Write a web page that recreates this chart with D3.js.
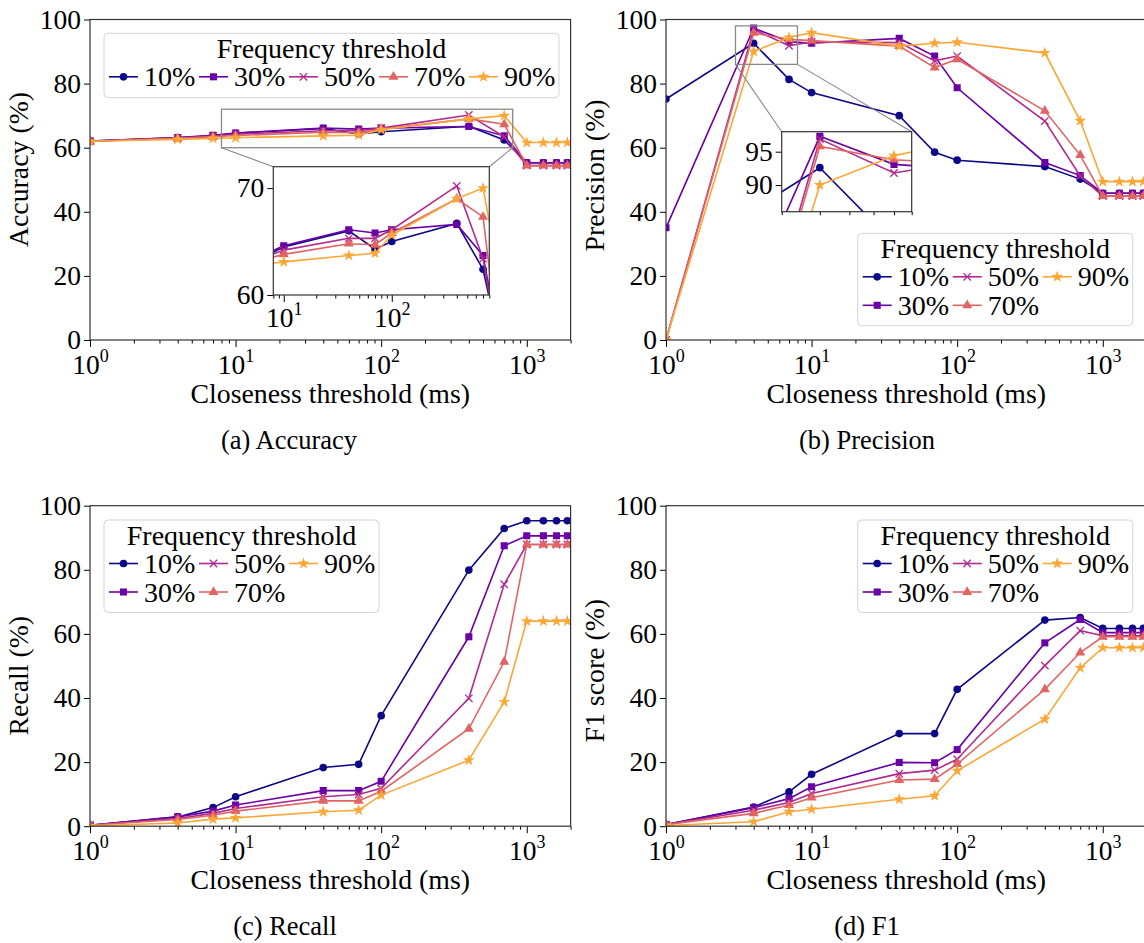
<!DOCTYPE html>
<html>
<head>
<meta charset="utf-8">
<script src="https://cdn.jsdelivr.net/npm/d3@7"></script>
<style>
  body { margin: 0; background: #fff; }
  text { font-family: "Liberation Serif", "Times New Roman", serif; fill: #000; }
</style>
</head>
<body>
<svg id="fig" width="1144" height="943"></svg>
<script>
// closeness thresholds (ms)
const xs = [1, 4, 7, 10, 40, 70, 100, 400, 700, 1000, 1300, 1600, 1900];
const freqLabels = ["10%", "30%", "50%", "70%", "90%"];
const colors = ["#0d0887", "#6a00a8", "#b12a90", "#e16462", "#fca636"];

const accuracy = [
  [62.1, 63.1, 63.7, 64.5, 66.0, 64.3, 65.0, 66.7, 62.4, 55.3, 55.3, 55.3, 55.3],
  [62.1, 63.2, 63.9, 64.6, 66.1, 65.8, 66.1, 66.6, 63.7, 55.3, 55.3, 55.3, 55.3],
  [62.0, 63.0, 63.6, 64.2, 65.3, 65.3, 66.1, 70.2, 63.4, 54.4, 54.4, 54.4, 54.4],
  [62.0, 62.9, 63.4, 63.8, 64.8, 64.7, 65.8, 69.0, 67.3, 54.4, 54.4, 54.4, 54.4],
  [62.0, 62.6, 62.9, 63.1, 63.7, 63.9, 65.6, 69.0, 70.0, 61.6, 61.6, 61.6, 61.6]
];
const precision = [
  [75.2, 92.6, 81.3, 77.2, 70.0, 58.6, 56.1, 54.1, 50.2, 45.8, 45.8, 45.8, 45.8],
  [35.0, 97.3, 93.1, 92.6, 94.1, 88.6, 78.7, 55.4, 51.3, 45.8, 45.8, 45.8, 45.8],
  [0.0, 96.9, 91.8, 93.0, 92.8, 87.1, 88.6, 68.3, 51.2, 44.9, 44.9, 44.9, 44.9],
  [0.0, 95.8, 93.8, 93.4, 91.7, 85.0, 87.6, 71.5, 57.7, 44.9, 44.9, 44.9, 44.9],
  [0.0, 90.0, 94.4, 95.9, 91.7, 92.6, 92.9, 89.6, 68.4, 49.4, 49.4, 49.4, 49.4]
];
const recall = [
  [0.3, 2.9, 5.8, 9.2, 18.3, 19.3, 34.5, 79.9, 92.9, 95.3, 95.3, 95.3, 95.3],
  [0.3, 2.9, 4.7, 6.6, 11.1, 11.1, 14.0, 59.1, 87.5, 90.6, 90.6, 90.6, 90.6],
  [0.3, 2.4, 4.0, 5.5, 9.2, 9.9, 11.8, 39.9, 75.5, 87.9, 87.9, 87.9, 87.9],
  [0.3, 2.1, 3.4, 4.7, 7.9, 7.9, 10.9, 30.4, 51.3, 87.9, 87.9, 87.9, 87.9],
  [0.1, 1.0, 2.2, 2.6, 4.5, 5.0, 9.7, 20.6, 38.8, 64.0, 64.0, 64.0, 64.0]
];
const f1 = [
  [0.5, 6.0, 10.7, 16.2, 28.9, 28.9, 42.7, 64.3, 65.1, 61.7, 61.7, 61.7, 61.7],
  [0.5, 5.8, 8.6, 12.3, 19.9, 19.8, 23.9, 57.2, 64.5, 60.4, 60.4, 60.4, 60.4],
  [0.5, 5.0, 7.4, 10.2, 16.4, 17.5, 20.9, 50.1, 61.0, 59.4, 59.4, 59.4, 59.4],
  [0.5, 4.0, 6.6, 8.9, 14.4, 14.7, 19.4, 42.7, 54.2, 59.1, 59.1, 59.1, 59.1],
  [0.2, 1.4, 4.5, 5.3, 8.4, 9.5, 17.3, 33.4, 49.4, 55.7, 55.7, 55.7, 55.7]
];

const yTicks = [0, 20, 40, 60, 80, 100];
const xMajor = [1, 10, 100, 1000];

const svg = d3.select("#fig");
let clipId = 0;

function minorTicks(dom) {
  const out = [];
  for (let e = Math.floor(Math.log10(dom[0])); e <= Math.ceil(Math.log10(dom[1])); e++)
    for (let k = 2; k <= 9; k++) {
      const v = k * Math.pow(10, e);
      if (v >= dom[0] && v <= dom[1]) out.push(v);
    }
  return out;
}

function markerD(i) {
  if (i === 0) return d3.symbol().type(d3.symbolCircle).size(46)();
  if (i === 1) return d3.symbol().type(d3.symbolSquare).size(50)();
  if (i === 2) return "M-3.7,-3.7L3.7,3.7M-3.7,3.7L3.7,-3.7";
  if (i === 3) return d3.symbol().type(d3.symbolTriangle).size(44)();
  return d3.symbol().type(d3.symbolStar).size(44)();
}

function marker(sel, i) {
  sel.attr("d", markerD(i));
  if (i === 2) sel.attr("fill", "none").attr("stroke", colors[i]).attr("stroke-width", 1.3);
  else sel.attr("fill", colors[i]).attr("stroke", "none");
}

function series(g, x, y, data) {
  const id = "clip" + (clipId++);
  const [x0, x1] = x.range(), [y1, y0] = y.range();
  g.append("clipPath").attr("id", id).append("rect")
    .attr("x", x0).attr("y", y0).attr("width", x1 - x0).attr("height", y1 - y0);
  const c = g.append("g").attr("clip-path", `url(#${id})`);
  data.forEach((vals, i) => {
    const pts = xs.map((v, j) => [v, vals[j]]);
    c.append("path")
      .attr("d", d3.line().x(d => x(d[0])).y(d => y(d[1]))(pts))
      .attr("fill", "none").attr("stroke", colors[i]).attr("stroke-width", 1.6);
    c.selectAll(null).data(pts).join("path")
      .attr("transform", d => `translate(${x(d[0])},${y(d[1])})`)
      .call(marker, i);
  });
}

function axes(g, x, y, o) {
  const [x0, x1] = x.range(), [y1, y0] = y.range();
  const dom = x.domain();
  g.append("g").attr("transform", `translate(0,${y1})`)
    .call(d3.axisBottom(x).tickValues(minorTicks(dom)).tickSize(3.5).tickFormat(""))
    .call(s => s.select(".domain").remove());
  if (o.xLabels) {
    const gx = g.append("g").attr("transform", `translate(0,${y1})`)
      .call(d3.axisBottom(x).tickValues(xMajor.filter(v => v >= dom[0] && v <= dom[1])).tickSize(7).tickFormat(""));
    gx.select(".domain").remove();
    gx.selectAll(".tick").each(function(d) {
      const t = d3.select(this).append("text")
        .attr("y", o.xLabY).attr("text-anchor", "middle").style("font-size", "27.5px");
      t.append("tspan").text("10");
      t.append("tspan").attr("dy", -12).style("font-size", "18px").text(Math.round(Math.log10(d)));
    });
  }
  const gy = g.append("g").attr("transform", `translate(${x0},0)`)
    .call(d3.axisLeft(y).tickValues(o.yTicks).tickSize(6).tickPadding(3));
  gy.select(".domain").remove();
  gy.selectAll("text").style("font-size", "27.5px");
  g.append("rect").attr("x", x0).attr("y", y0).attr("width", x1 - x0).attr("height", y1 - y0)
    .attr("fill", "none").attr("stroke", "#333").attr("stroke-width", 1.2);
}

function legend(g, lx, ly, ncol) {
  const nrow = Math.ceil(freqLabels.length / ncol);
  const w = ncol * 90 + 5, h = 36.4 + nrow * 28;
  g.append("rect").attr("x", lx).attr("y", ly).attr("width", w).attr("height", h)
    .attr("rx", 4).attr("fill", "#fff").attr("fill-opacity", 0.85)
    .attr("stroke", "#d4d4d4").attr("stroke-width", 1);
  g.append("text").attr("x", lx + w / 2).attr("y", ly + 25).attr("text-anchor", "middle")
    .style("font-size", "28px").text("Frequency threshold");
  freqLabels.forEach((lab, i) => {
    const col = Math.floor(i / nrow), row = i % nrow;
    const sx = lx + 5 + col * 90, sy = ly + 43.5 + row * 28.5;
    g.append("line").attr("x1", sx).attr("x2", sx + 29).attr("y1", sy).attr("y2", sy)
      .attr("stroke", colors[i]).attr("stroke-width", 1.6);
    g.append("path").attr("transform", `translate(${sx + 14.5},${sy})`).call(marker, i);
    g.append("text").attr("x", sx + 35).attr("y", sy + 9.5).style("font-size", "28px").text(lab);
  });
}

function zoomBox(g, x, y, ix, iy, xd, yd) {
  const rx0 = x(xd[0]), rx1 = x(xd[1]), ry0 = y(yd[1]), ry1 = y(yd[0]);
  g.append("rect").attr("x", rx0).attr("y", ry0).attr("width", rx1 - rx0).attr("height", ry1 - ry0)
    .attr("fill", "none").attr("stroke", "#8a8a8a").attr("stroke-width", 1.3);
  const [ix0, ix1] = ix.range(), iTop = iy.range()[1];
  g.append("line").attr("x1", rx0).attr("y1", ry1).attr("x2", ix0).attr("y2", iTop)
    .attr("stroke", "#8a8a8a").attr("stroke-width", 1.1);
  g.append("line").attr("x1", rx1).attr("y1", ry1).attr("x2", ix1).attr("y2", iTop)
    .attr("stroke", "#8a8a8a").attr("stroke-width", 1.1);
}

function panel(p) {
  const g = svg.append("g");
  const x = d3.scaleLog().domain([1, 2000]).range([p.left, p.left + 480.6]);
  const y = d3.scaleLinear().domain([0, 100]).range([p.top + 320.5, p.top]);
  series(g, x, y, p.data);
  axes(g, x, y, { xLabels: true, xLabY: 33.5, yTicks: yTicks });

  // axis titles
  g.append("text").attr("x", p.left + 240.3).attr("y", p.top + 383.5).attr("text-anchor", "middle")
    .style("font-size", "27.8px").text("Closeness threshold (ms)");
  g.append("text").attr("transform", `translate(${p.left - 62},${p.top + p.ylabY})rotate(-90)`)
    .attr("text-anchor", "middle").style("font-size", "27.8px").text(p.ylabel);
  g.append("text").attr("x", p.capX).attr("y", p.top + 429).attr("text-anchor", "middle")
    .style("font-size", "26.5px").text(p.caption);

  if (p.inset) {
    const s = p.inset;
    const ix = d3.scaleLog().domain(s.xd).range(s.xr);
    const iy = d3.scaleLinear().domain(s.yd).range(s.yr);
    zoomBox(g, x, y, ix, iy, s.xd, s.yd);
    g.append("rect").attr("x", s.xr[0]).attr("y", s.yr[1])
      .attr("width", s.xr[1] - s.xr[0]).attr("height", s.yr[0] - s.yr[1]).attr("fill", "#fff");
    series(g, ix, iy, p.data);
    axes(g, ix, iy, { xLabels: s.xLabels, xLabY: 32, yTicks: s.yTicks });
  }
  legend(g, p.leg[0], p.leg[1], p.leg[2]);
}

panel({
  left: 90, top: 19.5, data: accuracy, ylabel: "Accuracy (%)", ylabY: 150, caption: "(a) Accuracy", capX: 289,
  leg: [104, 33.3, 5],
  inset: { xd: [8, 800], yd: [60, 72], xr: [273.3, 489.3], yr: [295, 166.7], yTicks: [60, 70], xLabels: true }
});
panel({
  left: 666, top: 19.5, data: precision, ylabel: "Precision (%)", ylabY: 156, caption: "(b) Precision", capX: 867,
  leg: [857.7, 233.3, 3],
  inset: { xd: [3, 8], yd: [86, 98], xr: [781.7, 911.7], yr: [211.7, 131.7], yTicks: [90, 95], xLabels: false }
});
panel({
  left: 90, top: 505.7, data: recall, ylabel: "Recall (%)", ylabY: 170, caption: "(c) Recall", capX: 285,
  leg: [104, 520, 3]
});
panel({
  left: 666, top: 505.7, data: f1, ylabel: "F1 score (%)", ylabY: 165, caption: "(d) F1", capX: 867,
  leg: [857.7, 520, 3]
});
</script>
</body>
</html>
